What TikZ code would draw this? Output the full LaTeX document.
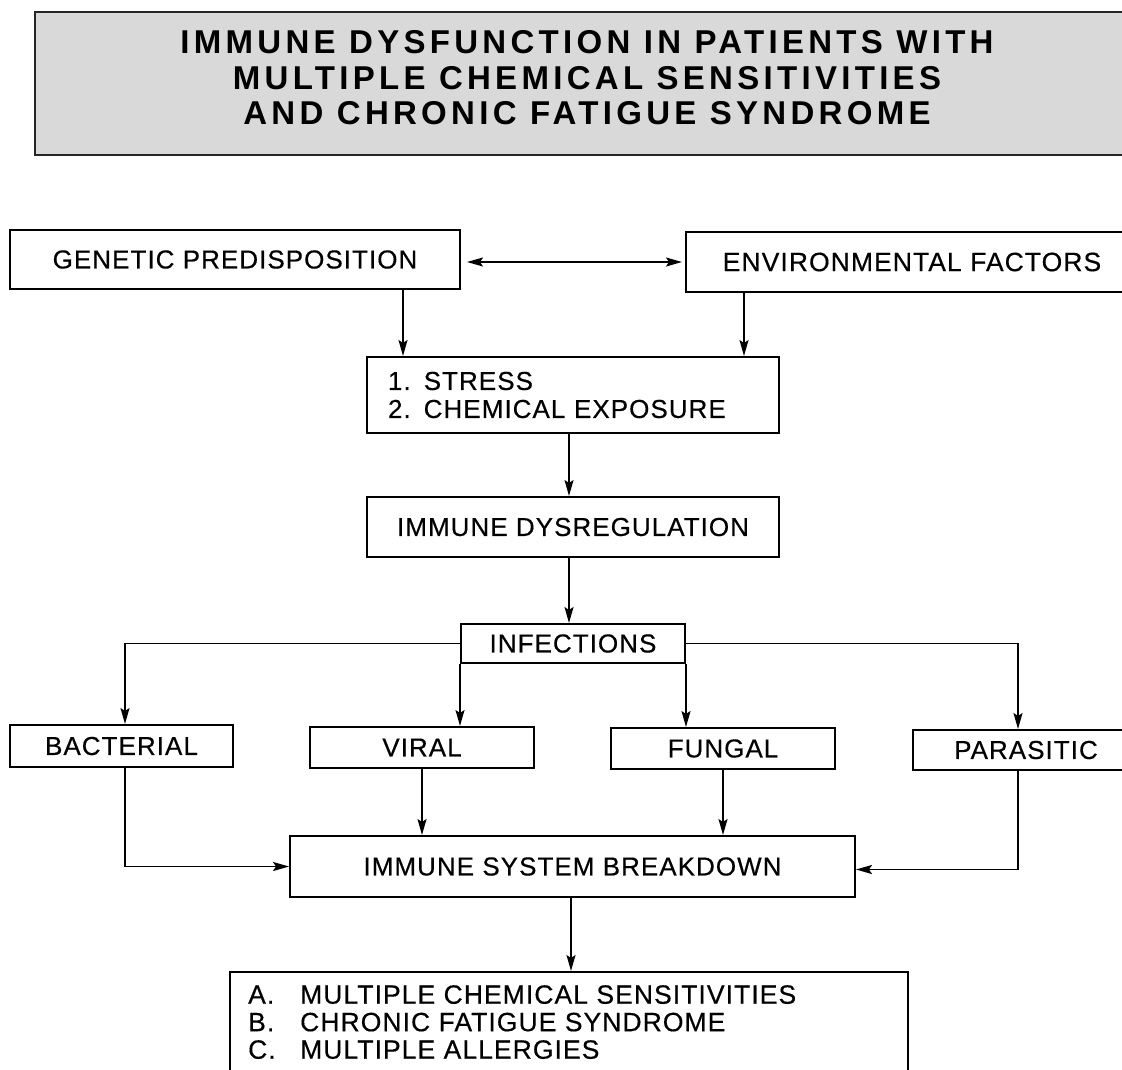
\documentclass[tikz,border=0pt]{standalone}
\usepackage{fontspec}
\setmainfont{Liberation Sans}[LetterSpace=4,FakeBold=0.4]
\newfontfamily\titlefont{Liberation Sans}[LetterSpace=13]
\usetikzlibrary{arrows.meta}
\tikzset{
  box/.style={draw=black, line width=2pt, fill=white, inner sep=0pt, font=\fontsize{26}{28}\selectfont},
  titlebox/.style={draw=black!85, line width=2.2pt, fill=gray!30, inner sep=0pt},
  arr/.style={line width=1.7pt, -{Stealth[length=16pt,width=9pt,inset=3pt]}},
  dbl/.style={line width=1.7pt, {Stealth[length=16pt,width=9pt,inset=3pt]}-{Stealth[length=16pt,width=9pt,inset=3pt]}},
  txt/.style={inner sep=0pt, font=\fontsize{26}{28}\selectfont}
}
\begin{document}
\begin{tikzpicture}[x=1pt,y=-1pt]
\clip (0,0) rectangle (1122,1069);
\fill[white] (0,0) rectangle (1122,1069);
% title
\node[titlebox, minimum width=1104pt, minimum height=143pt] (titlebox) at (587,83.5) {};
\node[inner sep=0pt, align=center, font=\titlefont\bfseries\fontsize{33}{35.5}\selectfont] (title) at (587,78)
  {IMMUNE DYSFUNCTION IN PATIENTS WITH\\MULTIPLE CHEMICAL SENSITIVITIES\\AND CHRONIC FATIGUE SYNDROME};
% top boxes
\node[box, minimum width=450pt, minimum height=59pt] (genetic) at (235,259.5) {GENETIC PREDISPOSITION};
\node[box, minimum width=452pt, minimum height=60pt, font=\fontsize{26.5}{28}\selectfont] (env) at (912,262) {ENVIRONMENTAL FACTORS};
\node[box, minimum height=76pt, text width=370pt, inner xsep=21pt, align=left,
  font=\fontsize{26}{28}\selectfont] (stress) at (573,395) {1. STRESS\\2. CHEMICAL EXPOSURE};
\node[box, minimum width=412pt, minimum height=60pt] (dysreg) at (573,527) {IMMUNE DYSREGULATION};
\node[box, minimum width=224pt, minimum height=39pt] (infections) at (573,643.5) {INFECTIONS};
\node[box, minimum width=223pt, minimum height=42pt] (bacterial) at (121.5,746) {BACTERIAL};
\node[box, minimum width=224pt, minimum height=41pt] (viral) at (422,747.5) {VIRAL};
\node[box, minimum width=224pt, minimum height=41pt] (fungal) at (723,748.5) {FUNGAL};
\node[box, minimum width=226pt, minimum height=40pt] (parasitic) at (1026,750) {PARASITIC};
\node[box, minimum width=565pt, minimum height=61pt] (breakdown) at (572.5,866.5) {IMMUNE SYSTEM BREAKDOWN};
\node[box, minimum width=678pt, minimum height=130pt, anchor=north west] (outcomes) at (229,971) {};
\node[txt, anchor=north west, align=left, font=\fontsize{26.5}{27.5}\selectfont] (outtext) at (248,985)
  {\makebox[52pt][l]{A.}MULTIPLE CHEMICAL SENSITIVITIES\\
   \makebox[52pt][l]{B.}CHRONIC FATIGUE SYNDROME\\
   \makebox[52pt][l]{C.}MULTIPLE ALLERGIES};
% helper x positions
\coordinate (xg) at (403,0);
\coordinate (xe) at (744,0);
\coordinate (xm) at (569,0);
\coordinate (xb) at (125,0);
\coordinate (xp) at (1018,0);
\coordinate (xo) at (571,0);
% connectors
\draw[dbl] ([xshift=6pt,yshift=-2.5pt]genetic.east) -- ([xshift=-3pt]env.west);
\draw[arr] (xg |- genetic.south) -- (xg |- stress.north);
\draw[arr] (xe |- env.south) -- (xe |- stress.north);
\draw[arr] (xm |- stress.south) -- (xm |- dysreg.north);
\draw[arr] (xm |- dysreg.south) -- (xm |- infections.north);
\draw[arr] (infections.west) -| (xb |- bacterial.north);
\draw[arr] (infections.east) -| (xp |- parasitic.north);
\draw[arr] (infections.south west) -- (infections.south west |- viral.north);
\draw[arr] (infections.south east) -- (infections.south east |- fungal.north);
\draw[arr] (xb |- bacterial.south) |- (breakdown.west);
\draw[arr] (viral.south) -- (viral.south |- breakdown.north);
\draw[arr] (fungal.south) -- (fungal.south |- breakdown.north);
\draw[arr] (xp |- parasitic.south) |- ([yshift=-3pt]breakdown.east);
\draw[arr] (xo |- breakdown.south) -- (xo |- outcomes.north);
\end{tikzpicture}
\end{document}
